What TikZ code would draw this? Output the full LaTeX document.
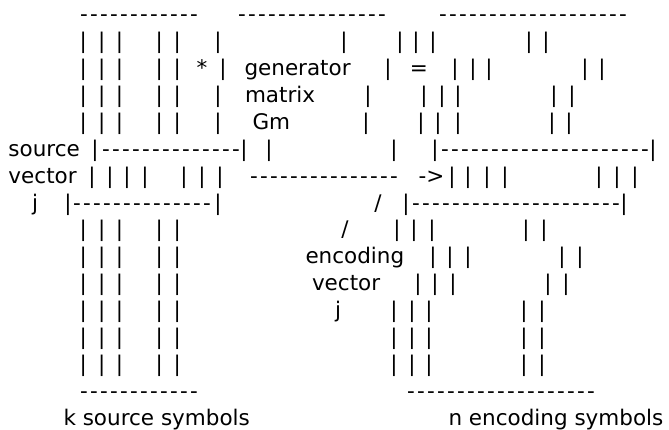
\documentclass[tikz,border=0pt]{standalone}
\usepackage{fontspec}
\newfontfamily\asciifont{DejaVu Sans}
\tikzset{
  % one character of the drawing
  chr/.style={inner sep=0pt, outer sep=0pt, anchor=base, font=\asciifont\fontsize{21.5}{26}\selectfont},
  % words and runs of dashes start at their left edge
  word/.style={chr, anchor=base west},
  rule/.style={chr, anchor=base west},
}
\newcommand{\rowy}[1]{-21.8-26.9*(#1-1)}
\newcommand{\dashrun}[1]{\foreach \k in {1,...,#1}{\makebox[10pt]{-}}}

\begin{document}
\begin{tikzpicture}[x=1pt, y=1pt]
  \useasboundingbox (0,0) rectangle (669,-430);

  % k source symbols (left columns)
  \foreach \r in {2,3,4,5,9,10,11,12,13,14}
    \foreach \x [count=\i] in {83.3,101.7,119.5,159.3,177.3}
      \node[chr] (s\r-\i) at (\x,{\rowy{\r}}) {|};
  \node[rule] (stop) at (79,{\rowy{1}}) {\dashrun{12}};
  \node[rule] (sbot) at (79,{\rowy{15}}) {\dashrun{12}};
  \node[word] (k) at (63.5,{\rowy{16}}) {k source symbols};

  % generator matrix
  \node[rule] (gtop) at (237,{\rowy{1}}) {\dashrun{15}};
  \node[chr] (star) at (202,{\rowy{3}}) {*};
  \node[word] (gen) at (244.5,{\rowy{3}}) {generator};
  \node[word] (mat) at (245,{\rowy{4}}) {matrix};
  \node[word] (gm) at (252.5,{\rowy{5}}) {Gm};
  \node[chr] (eq) at (419,{\rowy{3}}) {=};

  % n encoding symbols (right columns)
  \node[rule] (etop) at (438,{\rowy{1}}) {\dashrun{19}};
  \node[rule] (ebot) at (406,{\rowy{15}}) {\dashrun{19}};
  \node[word] (n) at (448.5,{\rowy{16}}) {n encoding symbols};

  % row 2 to 5
  \foreach \x [count=\i] in {218,344,400,416,433,529,546}
    \node[chr] (r2-\i) at (\x,{\rowy{2}}) {|};
  \foreach \x [count=\i] in {223,388,455,473,489,585,602}
    \node[chr] (r3-\i) at (\x,{\rowy{3}}) {|};
  \foreach \x [count=\i] in {218,368,424,442,458,554,572}
    \node[chr] (r4-\i) at (\x,{\rowy{4}}) {|};
  \foreach \x [count=\i] in {218,366,421,438,458,552,569}
    \node[chr] (r5-\i) at (\x,{\rowy{5}}) {|};

  % source vector j
  \node[word] (src) at (8.5,{\rowy{6}}) {source};
  \node[word] (vec) at (8.5,{\rowy{7}}) {vector};
  \node[chr] (j) at (35,{\rowy{8}}) {j};
  \foreach \x [count=\i] in {95,244,269,394,435,653}
    \node[chr] (r6-\i) at (\x,{\rowy{6}}) {|};
  \node[rule] (vtop) at (101,{\rowy{6}}) {\dashrun{14}};
  \node[rule] (etop2) at (440,{\rowy{6}}) {\dashrun{21}};
  \foreach \x [count=\i] in {92,110,127,145,184,202,220,452,468,487,505,599,617,635}
    \node[chr] (r7-\i) at (\x,{\rowy{7}}) {|};
  \node[rule] (mul) at (249,{\rowy{7}}) {\dashrun{15}};
  \node[word] (arr) at (418.5,{\rowy{7}}) {->};
  \foreach \x [count=\i] in {68,218,406,624}
    \node[chr] (r8-\i) at (\x,{\rowy{8}}) {|};
  \node[rule] (vbot) at (72,{\rowy{8}}) {\dashrun{14}};
  \node[rule] (ebot2) at (411,{\rowy{8}}) {\dashrun{21}};

  % encoding vector j
  \node[chr] (sl1) at (378,{\rowy{8}}) {/};
  \node[chr] (sl2) at (345,{\rowy{9}}) {/};
  \node[word] (enc) at (305.5,{\rowy{10}}) {encoding};
  \node[word] (evec) at (312,{\rowy{11}}) {vector};
  \node[chr] (ej) at (338,{\rowy{12}}) {j};
  \foreach \x [count=\i] in {397,414,432,526,544}
    \node[chr] (r9-\i) at (\x,{\rowy{9}}) {|};
  \foreach \x [count=\i] in {433,450,468,562,580}
    \node[chr] (r10-\i) at (\x,{\rowy{10}}) {|};
  \foreach \x [count=\i] in {418,435,453,548,566}
    \node[chr] (r11-\i) at (\x,{\rowy{11}}) {|};
  \foreach \r in {12,13,14}
    \foreach \x [count=\i] in {394,412,429,524,542}
      \node[chr] (r\r-\i) at (\x,{\rowy{\r}}) {|};
\end{tikzpicture}
\end{document}
